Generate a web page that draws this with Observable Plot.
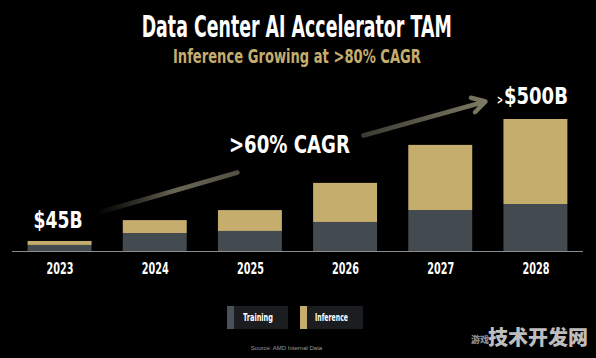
<!DOCTYPE html>
<html>
<head>
<meta charset="utf-8">
<script src="https://cdn.jsdelivr.net/npm/d3@7"></script>
<script src="https://cdn.jsdelivr.net/npm/@observablehq/plot@0.6"></script>
<style>
  html, body { margin: 0; padding: 0; background: #000; }
  #wrap { position: relative; width: 596px; height: 358px; overflow: hidden; background: #000;
          font-family: "DejaVu Sans", sans-serif; }
  .abs { position: absolute; white-space: nowrap; }
  #title { left: 0; width: 596px; top: 9px; text-align: center; color: #fff; font-weight: bold; font-size: 31px; line-height: 34px; }
  #subtitle { left: 0; width: 596px; top: 45px; text-align: center; color: #c5ad6e; font-weight: bold; font-size: 20px; line-height: 22px; }
  #chart { position: absolute; left: 0; top: 70px; }
  .lg { position: absolute; top: 306px; height: 23px; background: #1b1d20; }
  .lg .strip { position: absolute; left: 0; top: 0; width: 7px; height: 23px; }
  .lg .lab { position: absolute; top: 0; line-height: 23px; color: #fff; font-weight: bold; font-size: 11px; transform-origin: 0 0; }
  #source { left: 200px; width: 173px; top: 345px; text-align: center; color: #9a9a9a; font-size: 6px; font-family: "Liberation Sans", Arial, sans-serif; }
  #wm { left: 488px; top: 324px; color: #bdbdbd; font-weight: 900; font-size: 20px; line-height: 26px;
        font-family: "Noto Sans CJK SC", sans-serif; }
  #wm2 { left: 471px; top: 333px; color: #8c8c8c; font-weight: 900; font-size: 9px; line-height: 14px;
        font-family: "Noto Sans CJK SC", sans-serif; }
</style>
</head>
<body>
<div id="wrap">
  <div id="title" class="abs">Data Center AI Accelerator TAM</div>
  <div id="subtitle" class="abs">Inference Growing at &gt;80% CAGR</div>
  <div id="chart"></div>
  <div class="lg" style="left:227px;width:61px;"><div class="strip" style="background:#4a5258"></div><div id="lab1" class="lab" style="left:16px">Training</div></div>
  <div class="lg" style="left:300px;width:63px;"><div class="strip" style="background:#c5ad6e"></div><div id="lab2" class="lab" style="left:15px">Inference</div></div>
  <div id="source" class="abs">Source: AMD Internal Data</div>
  <div id="wm2" class="abs">游戏</div>
  <div id="wm" class="abs">技术开发网</div>
</div>
<script>
// ---- data ($B) ----
const years = [2023, 2024, 2025, 2026, 2027, 2028];
const training = [23, 68, 76, 110, 155, 178];
const inference = [15, 49, 79, 148, 247, 322];
const series = ["Training", "Inference"];
const seriesColors = ["#434a50", "#c5ad6e"];
const startLabel = "$45B";
const endLabel = "$500B";
const endPrefix = ">";
const cagrLabel = ">60% CAGR";

const totals = years.map((y, i) => training[i] + inference[i]);
const rows = years.flatMap((year, i) => [
  {year, type: series[0], y1: 0, y2: training[i]},
  {year, type: series[1], y1: training[i], y2: training[i] + inference[i]}
]);

const halfBar = 0.336;

const chart = Plot.plot({
  width: 596,
  height: 215,
  marginLeft: 12,
  marginRight: 13,
  marginTop: 0,
  marginBottom: 34,
  style: 'background: transparent; color: #fff; font-family: "DejaVu Sans", sans-serif; overflow: visible;',
  x: {domain: [2022.5, 2028.5]},
  y: {domain: [0, 685.6], axis: null},
  color: {domain: series, range: seriesColors},
  marks: [
    Plot.rect(rows, {x1: d => d.year - halfBar, x2: d => d.year + halfBar, y1: "y1", y2: "y2", fill: "type"}),
    Plot.ruleY([0], {stroke: "#8c8c8c", strokeWidth: 1}),
    Plot.axisX({ticks: years, tickFormat: d => String(d), tickSize: 0, tickPadding: 12, label: null,
                fontSize: 15, fontWeight: "bold", fill: "#fff"}),
    // annotations
    Plot.link([0], {x1: 2023.372, y1: 143.9, x2: 2024.864, y2: 299.2, stroke: "url(#g1)", strokeWidth: 4.5, strokeLinecap: "round"}),
    Plot.arrow([0], {x1: 2026.188, y1: 439.4, x2: 2027.47, y2: 568.2, stroke: "url(#g2)", strokeWidth: 4.5, headLength: 5, headAngle: 60}),
    Plot.text([startLabel], {x: years[0], y: totals[0], text: d => d, dx: -2, dy: -20.5, lineAnchor: "middle",
               fontSize: 23, fontWeight: "bold", fill: "#fff"}),
    Plot.text([endLabel], {x: years[5], y: totals[5], text: d => d, dy: -22.5, lineAnchor: "middle",
               fontSize: 23, fontWeight: "bold", fill: "#fff"}),
    Plot.text([endPrefix], {x: years[5], y: totals[5], text: d => d, dx: -33, dy: -20, textAnchor: "end", lineAnchor: "middle",
               fontSize: 13, fontWeight: "bold", fill: "#fff"}),
    Plot.text([cagrLabel], {x: 2025.41, y: 405, text: d => d, lineAnchor: "middle",
               fontSize: 25, fontWeight: "bold", fill: "#fff"})
  ]
});

const svg = d3.select(chart);
const defs = svg.insert("defs", ":first-child");
const g1 = defs.append("linearGradient").attr("id", "g1").attr("x1", 0).attr("x2", 1).attr("y1", 0).attr("y2", 0);
g1.append("stop").attr("offset", 0).attr("stop-color", "#5c5a4a").attr("stop-opacity", 0);
g1.append("stop").attr("offset", 0.55).attr("stop-color", "#7a7763").attr("stop-opacity", 0.85);
g1.append("stop").attr("offset", 1).attr("stop-color", "#8a8770").attr("stop-opacity", 0.6);
const g2 = defs.append("linearGradient").attr("id", "g2").attr("x1", 0).attr("x2", 1).attr("y1", 0).attr("y2", 0);
g2.append("stop").attr("offset", 0).attr("stop-color", "#3c3c34");
g2.append("stop").attr("offset", 1).attr("stop-color", "#7c7a64");

document.getElementById("chart").appendChild(chart);

// condense the wide fallback font to the reference's condensed lettering
const targetWidths = new Map([[startLabel, 49], [endLabel, 64], [cagrLabel, 121], [endPrefix, 6],
                               ...years.map(y => [String(y), 27])]);
svg.selectAll("text").each(function() {
  const t = this.textContent;
  if (!targetWidths.has(t)) return;
  const w = this.getBBox().width;
  if (!(w > 0)) return;
  const s = targetWidths.get(t) / w;
  const x = +this.getAttribute("x") || 0;
  const tr = this.getAttribute("transform") || "";
  this.setAttribute("transform", `${tr} translate(${x},0) scale(${s},1) translate(${-x},0)`);
});

function fit(id, target, origin) {
  const el = document.getElementById(id);
  const r = document.createRange();
  r.selectNodeContents(el);
  const w = r.getBoundingClientRect().width;
  if (w > 0) { el.style.transform = `scaleX(${target / w})`; el.style.transformOrigin = origin; }
}
fit("title", 310, "295px 0");
fit("subtitle", 248, "295px 0");
fit("lab1", 30, "0 0");
fit("lab2", 33, "0 0");
</script>
</body>
</html>
